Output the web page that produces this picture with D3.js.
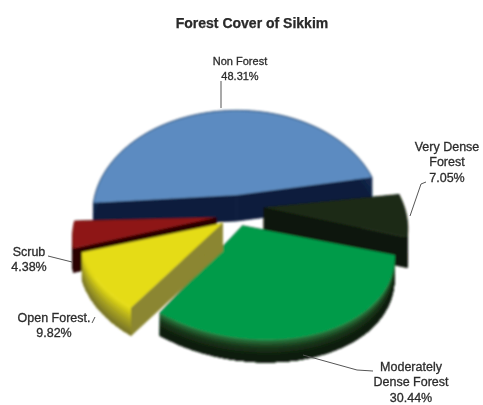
<!DOCTYPE html>
<html><head><meta charset="utf-8">
<script src="https://cdn.jsdelivr.net/npm/d3@7"></script>
<style>html,body{margin:0;padding:0;background:#fff}svg{display:block}
text{font-family:"Liberation Sans",Arial,sans-serif;fill:#2c2c2c;text-anchor:middle}</style>
</head><body><div id="c"></div>
<script>
const title = "Forest Cover of Sikkim";
const categories = ["Non Forest", "Very Dense Forest", "Moderately Dense Forest", "Open Forest", "Scrub"];
const percentages = [48.31, 7.05, 30.44, 9.82, 4.38];
const percentLabels = ["48.31%", "7.05%", "30.44%", "9.82%", "4.38%"];
const labelLines = [["Non Forest"], ["Very Dense", "Forest"], ["Moderately", "Dense Forest"], ["Open Forest."], ["Scrub"]];

// layout & style (per-category, same order)
const W = 483, H = 405, R = 140, cx = 234, cy = 201, tilt = 0.68, persp = 0.177;
const explode = [13, 29, 24, 20, 22];
const depth = [26, 30, 23, 28, 24];
const spinDeg = [-2.5, 0, 0, 0, 0];
const tiltK = [1.05, 1, 0.92, 0.92, 1];
const radK = [1.03, 1, 1, 1, 1];
const nudgeX = [4, 1, -2, 4, 4];
const nudgeY = [3, 5, 10, 15, 14];
const shearX = [0, 0, 0.2, 0.13, 0];
const topColor = ["#5b8bc1", "#1c2b15", "#049b4a", "#e5dc14", "#8e1512"];
const edgeColor = ["#2b4a72", "#141f0f", "#049b4a", "#e5dc14", "#7a100e"];
const cutColor = ["#0c1d3d", "#0f170b", "#0e2a14", "#8b8630", "#2a0505"];
const wallShade = [["#1a2f55","#0c1d3d"],["#16210f","#0c130a"],["#2a7a40","#1a3a1c","#10200f","#0f1a0d"],["#e5dc14","#a8a220","#77732a"],["#3a0606","#1a0303"]];
const labelX = [240, 447, 411, 54, 29];
const labelY = [65, 151, 371, 322, 256];
const labelSize = [11, 12.5, 12.5, 12.5, 12.5];
const leaders = [
  [[221,81],[221,108]],
  [[426,182],[421,184],[410,216]],
  [[303,355],[357,370],[373,371]],
  [[92,323],[95,317]],
  [[48,256],[72,262]]
];
const order = [0, 1, 4, 2, 3];

const arcs = d3.pie().sort(null).value(d => d)
  .startAngle(-92 * Math.PI / 180).endAngle(268 * Math.PI / 180)(percentages);

function project(i, a0, rad, dz) {
  const a = a0 + spinDeg[i] * Math.PI / 180;
  const b = (arcs[i].startAngle + arcs[i].endAngle) / 2, e = explode[i];
  const px = e * Math.sin(b) + rad * radK[i] * R * Math.sin(a);
  const py = -(e * Math.cos(b) + rad * radK[i] * R * Math.cos(a));
  const s = 1 / (1 - persp * py / R);
  const yRel = tilt * tiltK[i] * py * s;
  return [cx + px * s + nudgeX[i] + shearX[i] * yRel, cy + yRel + nudgeY[i] + dz];
}
const line = d3.line();
const angles = i => d3.range(0, 61).map(k => arcs[i].startAngle + (arcs[i].endAngle - arcs[i].startAngle) * k / 60);

const svg = d3.select("#c").append("svg").attr("width", W).attr("height", H);
const defs = svg.append("defs");
defs.append("filter").attr("id", "soft").attr("x", "-5%").attr("y", "-5%").attr("width", "110%").attr("height", "110%")
  .append("feGaussianBlur").attr("stdDeviation", 0.8);
defs.append("filter").attr("id", "softT").append("feGaussianBlur").attr("stdDeviation", 0.5);

const pieG = svg.append("g").attr("filter", "url(#soft)");
order.forEach(i => {
  const g = pieG.append("g");
  const as = angles(i), d = depth[i];
  const apex = z => project(i, arcs[i].startAngle, 0, z);
  const rim = (a, z) => project(i, a, 1, z);
  // radial cut faces
  [as[0], as[60]].forEach(a => {
    g.append("path").attr("d", line([apex(0), rim(a, 0), rim(a, d), apex(d)]) + "Z")
      .attr("fill", cutColor[i]).attr("stroke", cutColor[i]).attr("stroke-width", 0.8);
  });
  // outer wall, painted band over band from top to bottom
  const shade = d3.scaleLinear().domain(d3.range(wallShade[i].length).map(k => k / (wallShade[i].length - 1))).range(wallShade[i]);
  const bands = 20;
  d3.range(bands).forEach(k => {
    const z0 = d * k / bands;
    const pts = as.map(a => rim(a, z0)).concat(as.slice().reverse().map(a => rim(a, d)));
    g.append("path").attr("d", line(pts) + "Z").attr("fill", shade(k / (bands - 1)));
  });
  // top face
  const pts = [apex(0)].concat(as.map(a => rim(a, 0)));
  g.append("path").attr("d", line(pts) + "Z").attr("fill", topColor[i]);
  g.append("path").attr("d", line(as.map(a => rim(a, 0)))).attr("fill", "none").attr("stroke", edgeColor[i]).attr("stroke-width", 1);
});

const labelG = svg.append("g").attr("filter", "url(#softT)");
labelG.selectAll("path").data(leaders).join("path")
  .attr("d", d => line(d)).attr("fill", "none").attr("stroke", "#555").attr("stroke-width", 1);

categories.forEach((c, i) => {
  const rows = labelLines[i].concat([percentLabels[i]]);
  const t = labelG.append("text").attr("font-size", labelSize[i]).attr("stroke", "#2c2c2c").attr("stroke-width", 0.3);
  rows.forEach((r, k) => t.append("tspan").attr("x", labelX[i]).attr("y", labelY[i] + k * 15.3).text(r));
});
labelG.append("text").attr("x", 252).attr("y", 28).attr("font-size", 14).attr("font-weight", 700).attr("fill", "#1a1a1a").attr("stroke", "#1a1a1a").attr("stroke-width", 0.25).text(title);
</script></body></html>
